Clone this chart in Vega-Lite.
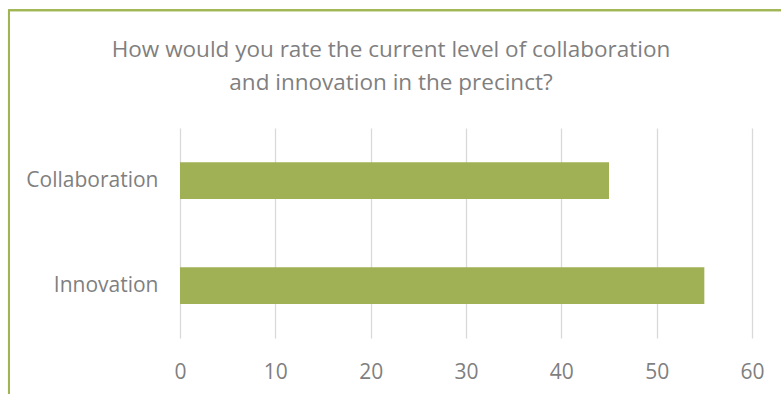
{
  "$schema": "https://vega.github.io/schema/vega-lite/v6.json",
  "autosize": "none",
  "width": 572,
  "height": 210,
  "padding": {"left": 180, "top": 128, "right": 29, "bottom": 56},
  "background": "white",
  "config": {"view": {"stroke": null}},
  "title": {
    "text": ["How would you rate the current level of collaboration", "and innovation in the precinct?"],
    "font": "Open Sans",
    "fontSize": 22.5,
    "fontWeight": "normal",
    "color": "#7f7f7f",
    "lineHeight": 33,
    "anchor": "middle",
    "frame": "group",
    "dx": -75,
    "offset": -85
  },
  "data": {"values": [
    {"category": "Collaboration", "value": 45},
    {"category": "Innovation", "value": 55}
  ]},
  "layer": [
    {
      "mark": {"type": "rect", "fill": null, "stroke": "#9fb552", "strokeWidth": 2, "clip": false},
      "encoding": {
        "x": {"datum": -17.94, "type": "quantitative"},
        "x2": {"datum": 80},
        "y": {"datum": 1.5605, "type": "quantitative", "scale": {"domain": [0, 1]}, "axis": null},
        "y2": {"datum": -1}
      }
    },
    {
      "mark": {"type": "bar", "color": "#a0b054"},
      "encoding": {
        "y": {
          "field": "category", "type": "nominal", "sort": ["Collaboration", "Innovation"],
          "scale": {"paddingInner": 0.65, "paddingOuter": 0.325},
          "axis": {"title": null, "domain": false, "ticks": false, "labelFont": "Open Sans", "labelFontSize": 21, "labelColor": "#7f7f7f", "labelPadding": 22}
        },
        "x": {
          "field": "value", "type": "quantitative",
          "scale": {"domain": [0, 60]},
          "axis": {"title": null, "values": [0, 10, 20, 30, 40, 50, 60], "domain": false, "ticks": false, "grid": true, "gridColor": "#d9d9d9", "gridWidth": 1.3, "labelFont": "Open Sans", "labelFontSize": 21, "labelColor": "#7f7f7f", "labelPadding": 23, "labelFlush": false}
        }
      }
    }
  ],
  "resolve": {"scale": {"y": "independent"}}
}
